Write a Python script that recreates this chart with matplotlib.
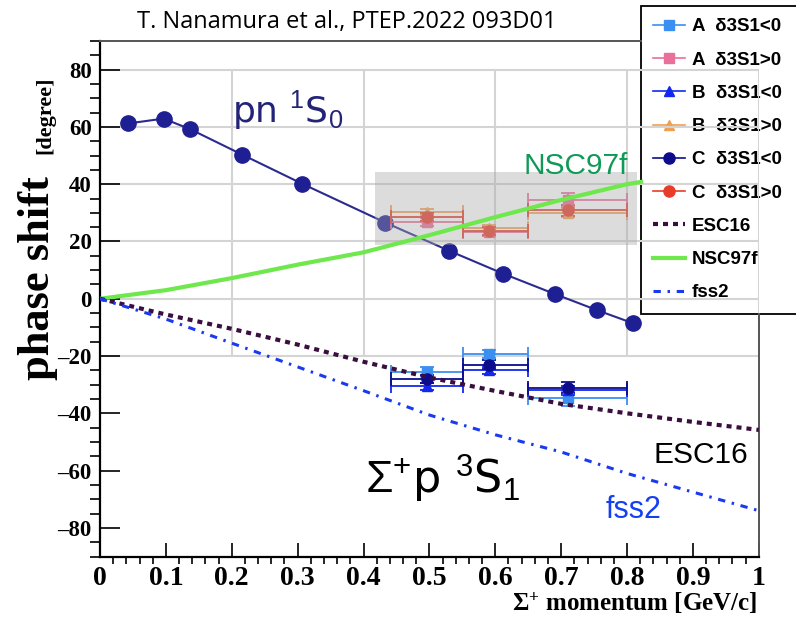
import numpy as np
import matplotlib.pyplot as plt
from matplotlib.lines import Line2D
from matplotlib.patches import Rectangle

plt.rcParams['mathtext.fontset'] = 'custom'
plt.rcParams['mathtext.rm'] = 'Liberation Sans'
plt.rcParams['mathtext.it'] = 'Liberation Sans:italic'
plt.rcParams['mathtext.bf'] = 'Liberation Serif:bold'

# pn 1S0 phase shift (overlaid curve)
pn_x = [0.0425, 0.0965, 0.137, 0.216, 0.3065, 0.433, 0.5305, 0.6115, 0.691, 0.7546, 0.8097]
pn_y = [61.2, 62.9, 59.2, 50.3, 40.2, 26.6, 16.7, 8.8, 1.6, -4.0, -8.6]

# Sigma+ p 3S1 phase shifts in three momentum bins
bin_x = np.array([0.496, 0.590, 0.711])
bin_lo = np.array([0.442, 0.551, 0.650])
bin_hi = np.array([0.551, 0.650, 0.800])
a_neg = [-25.5, -19.3, -34.8]
b_neg = [-30.5, -25.0, -32.0]
c_neg = [-28.0, -23.0, -31.0]
a_pos = [26.8, 23.3, 34.4]
b_pos = [30.3, 24.7, 30.0]
c_pos = [28.6, 23.7, 30.9]
a_err = [1.5, 1.5, 2.5]
b_err = [1.2, 1.2, 1.5]
c_err = [1.5, 1.5, 2.0]

# theory curves
mom = [0.0, 0.1, 0.2, 0.3, 0.4, 0.5, 0.6, 0.7, 0.8, 0.9, 1.0]
esc16 = [0, -5.5, -10.5, -16.0, -22.0, -27.5, -32.2, -36.7, -40.0, -43.0, -45.8]
fss2 = [0, -7.1, -15.5, -23.8, -32.1, -40.6, -47.5, -53.5, -61.0, -67.5, -74.0]
nsc_x = [0.0, 0.1, 0.2, 0.3, 0.4, 0.5, 0.6, 0.7, 0.8, 0.8214]
nsc97f = [0, 3.0, 7.2, 11.9, 16.2, 22.2, 28.5, 34.5, 40.0, 40.8]

xtick_labels = ['0', '0.1', '0.2', '0.3', '0.4', '0.5', '0.6', '0.7', '0.8', '0.9', '1']
yticks = [-80, -60, -40, -20, 0, 20, 40, 60, 80]
ytick_labels = ['–80', '–60', '–40', '–20', '0', '20', '40', '60', '80']
legend_labels = ['A  δ3S1<0', 'A  δ3S1>0', 'B  δ3S1<0', 'B  δ3S1>0',
                 'C  δ3S1<0', 'C  δ3S1>0', 'ESC16', 'NSC97f', 'fss2']

col_a_neg, col_a_pos = '#3b8ff0', '#e8709a'
col_b_neg, col_b_pos = '#1228f0', '#f0a050'
col_c_neg, col_c_pos = '#0d0d8c', '#e83c2a'
col_esc, col_nsc, col_fss = '#3a0e3e', '#6ee84c', '#1a3af0'

fig = plt.figure(figsize=(7.96, 6.26), dpi=100)
ax = fig.add_axes([100 / 796, 69.5 / 626, 658.8 / 796, 515.5 / 626])
ax.set_xlim(0, 1)
ax.set_ylim(-90, 90)

# grid of the overlaid pn plot
ax.vlines([0.2, 0.4, 0.6, 0.8, 1.0], -20, 80, color='#d4d4d4', lw=1.5, zorder=1.5)
ax.hlines([80, 60, 40, 20, 0, -20], 0, 1, color='#d4d4d4', lw=1.5, zorder=1.5)

ax.plot(pn_x, pn_y, '-o', color='#2b2b8f', mfc='#1f1f94', mec='#1f1f94', ms=11, lw=1.5, zorder=2)

xerr = [bin_x - bin_lo, bin_hi - bin_x]
eb = dict(capsize=5, elinewidth=1.3, capthick=1.3, zorder=2.5)
ax.errorbar(bin_x, a_neg, xerr=xerr, yerr=a_err, fmt='s', color=col_a_neg, ms=7, **eb)
ax.errorbar(bin_x, b_neg, xerr=xerr, yerr=b_err, fmt='^', color=col_b_neg, ms=7, **eb)
ax.errorbar(bin_x, c_neg, xerr=xerr, yerr=c_err, fmt='o', color=col_c_neg, ms=8, **eb)
ax.errorbar(bin_x, a_pos, xerr=xerr, yerr=a_err, fmt='s', color=col_a_pos, ms=7, **eb)
ax.errorbar(bin_x, b_pos, xerr=xerr, yerr=b_err, fmt='^', color=col_b_pos, ms=7, **eb)
ax.errorbar(bin_x, c_pos, xerr=xerr, yerr=c_err, fmt='o', color=col_c_pos, ms=8, **eb)

ax.add_patch(Rectangle((0.4175, 18.9), 0.397, 25.2, color='#a8a8a8', alpha=0.4, lw=0, zorder=3))

ax.plot(nsc_x, nsc97f, color=col_nsc, lw=3, zorder=4)
ax.plot(mom, esc16, color=col_esc, lw=3, dashes=(1.2, 1.2), zorder=4)
ax.plot(mom, fss2, color=col_fss, lw=2.2, dashes=(2.4, 2.2, 0.8, 2.2), zorder=4)

# annotations
ax.text(0.201, 61.2, r'pn $^{1}$S$_{0}$', color='#232378', fontsize=26, va='baseline')
ax.text(0.643, 43.7, 'NSC97f', color='#109a58', fontsize=21.5, family='Liberation Sans', va='baseline')
ax.text(0.840, -57.5, 'ESC16', color='black', fontsize=21.5, family='Liberation Sans', va='baseline')
ax.text(0.767, -76.7, 'fss2', color='#1540f0', fontsize=22, family='Liberation Sans', va='baseline')
ax.text(0.4026, -67.9, r'$\Sigma^{+}$p $^{3}$S$_{1}$', color='black', fontsize=32, va='baseline')

# axes styling
ax.set_xticks(mom)
ax.set_xticklabels(xtick_labels)
ax.set_xticks(np.arange(0, 1.001, 0.02), minor=True)
ax.set_yticks(yticks)
ax.set_yticklabels(ytick_labels)
ax.set_yticks(np.arange(-90, 91, 5), minor=True)
ax.tick_params(direction='in', top=False, right=False, width=1.2, color='black')
ax.tick_params(axis='y', which='major', length=14.4, pad=6, labelsize=16.5)
ax.tick_params(axis='y', which='minor', length=7.2, width=1.2)
ax.tick_params(axis='x', which='major', length=10, pad=7, labelsize=20)
ax.tick_params(axis='x', which='minor', length=5, width=1.2)
for lab in ax.get_xticklabels() + ax.get_yticklabels():
    lab.set_family('Liberation Serif')
    lab.set_weight('bold')
for s in ['left', 'bottom']:
    ax.spines[s].set_linewidth(1.6)
for s in ['top', 'right']:
    ax.spines[s].set_linewidth(1.4)
    ax.spines[s].set_color('#555555')
ax.spines['top'].set_bounds(0, 0.8214)
ax.spines['right'].set_bounds(-90, -5.4)

handles = [
    Line2D([], [], color=col_a_neg, marker='s', ms=7, lw=1.2),
    Line2D([], [], color=col_a_pos, marker='s', ms=7, lw=1.2),
    Line2D([], [], color=col_b_neg, marker='^', ms=7, lw=1.2),
    Line2D([], [], color=col_b_pos, marker='^', ms=7, lw=1.2),
    Line2D([], [], color=col_c_neg, marker='o', ms=8, lw=1.2),
    Line2D([], [], color=col_c_pos, marker='o', ms=8, lw=1.2),
    Line2D([], [], color=col_esc, lw=3, dashes=(1.2, 1.2)),
    Line2D([], [], color=col_nsc, lw=3),
    Line2D([], [], color=col_fss, lw=2.2, dashes=(2.4, 2.2, 0.8, 2.2)),
]
leg = ax.legend(handles, legend_labels, loc='upper left',
                bbox_to_anchor=(641 / 796, 312 / 626, 0.25, 308 / 626),
                bbox_transform=fig.transFigure, mode='expand', borderaxespad=0,
                prop={'family': 'Liberation Sans', 'weight': 'bold', 'size': 13.5},
                handlelength=1.7, handletextpad=0.36, labelspacing=0.86, borderpad=0.65,
                fancybox=False, framealpha=1, edgecolor='black')
leg.get_frame().set_linewidth(1.3)
leg.set_zorder(1.2)

fig.text(347 / 796, 1 - 22 / 626, 'T. Nanamura et al., PTEP.2022 093D01',
         family='Open Sans', fontsize=17, ha='center', va='center')
fig.text(38 / 796, 1 - 278 / 626, 'phase shift', family='Liberation Serif', weight='bold',
         fontsize=32, rotation=90, ha='center', va='center')
fig.text(45 / 796, 1 - 115 / 626, '[degree]', family='Liberation Serif', weight='bold',
         fontsize=16, rotation=90, ha='center', va='center')
fig.text(757 / 796, 1 - 603 / 626, r'$\mathbf{\Sigma^{+}}$ momentum [GeV/c]',
         family='Liberation Serif', weight='bold', fontsize=18, ha='right', va='center')

fig.savefig('out.png', dpi=100)
